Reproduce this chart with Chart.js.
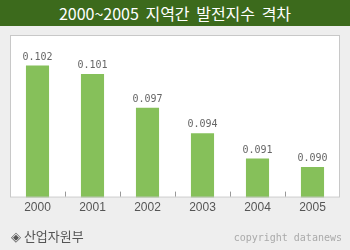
<!DOCTYPE html>
<html>
<head>
<meta charset="utf-8">
<script src="https://cdn.jsdelivr.net/npm/chart.js@4/dist/chart.umd.min.js"></script>
<style>
  html, body { margin: 0; padding: 0; background: #eeeeee; width: 350px; height: 250px; overflow: hidden; }
  #wrap { position: absolute; left: 0; top: 0; width: 350px; height: 250px; }
  #title { position: absolute; left: 0; top: 0; width: 350px; height: 26px; background: #3c6a1c; color: #ffffff;
           font-family: "Noto Sans CJK KR", sans-serif; font-size: 16px; line-height: 26px; text-align: center; word-spacing: 3px; z-index: 2; }
  #source { position: absolute; left: 11px; top: 227px; color: #555555; font-family: "Noto Sans CJK KR", sans-serif; font-size: 13px; line-height: 18px; z-index: 2; }
  #copy { position: absolute; right: 8px; top: 231px; color: #aaaaaa; font-family: "DejaVu Sans Mono", monospace; font-size: 10px; line-height: 14px; z-index: 2; }
  canvas { position: absolute; left: 0; top: 0; }
</style>
</head>
<body>
<div id="wrap">
  <div id="title">2000~2005 지역간 발전지수 격차</div>
  <canvas id="c" width="350" height="250"></canvas>
  <div id="source">◈ 산업자원부</div>
  <div id="copy">copyright datanews</div>
</div>
<script>
const categories = ["2000", "2001", "2002", "2003", "2004", "2005"];
const values = [0.102, 0.101, 0.097, 0.094, 0.091, 0.090];
const valueLabels = ["0.102", "0.101", "0.097", "0.094", "0.091", "0.090"];

const boxPlugin = {
  id: 'box',
  beforeDraw(chart) {
    const { ctx, chartArea: a } = chart;
    ctx.save();
    ctx.fillStyle = '#ffffff';
    ctx.fillRect(a.left, a.top, a.right - a.left, a.bottom - a.top);
    ctx.restore();
  },
  afterDatasetsDraw(chart) {
    const { ctx, chartArea: a } = chart;
    const xs = chart.scales.x;
    ctx.save();
    ctx.strokeStyle = '#c8c8c8';
    ctx.lineWidth = 1;
    ctx.strokeRect(a.left + 0.5, a.top + 0.5, a.right - a.left - 1, a.bottom - a.top - 1);
    ctx.strokeStyle = '#999999';
    for (let i = 1; i < categories.length; i++) {
      const x = Math.round((xs.getPixelForTick(i - 1) + xs.getPixelForTick(i)) / 2) + 0.5;
      ctx.beginPath();
      ctx.moveTo(x, a.bottom - 1);
      ctx.lineTo(x, a.bottom - 6);
      ctx.stroke();
    }
    const meta = chart.getDatasetMeta(0);
    ctx.fillStyle = '#666666';
    ctx.font = '10px "DejaVu Sans Mono", monospace';
    ctx.textAlign = 'center';
    ctx.textBaseline = 'alphabetic';
    meta.data.forEach((bar, i) => {
      ctx.fillText(valueLabels[i], bar.x, bar.y - 6);
    });
    ctx.restore();
  }
};

new Chart(document.getElementById('c'), {
  type: 'bar',
  data: {
    labels: categories,
    datasets: [{
      data: values,
      backgroundColor: '#86c05a',
      borderWidth: 0,
      categoryPercentage: 1,
      barPercentage: 0.42
    }]
  },
  options: {
    responsive: false,
    animation: false,
    layout: { padding: { left: 10, right: 10, top: 35, bottom: 32 } },
    plugins: { legend: { display: false }, tooltip: { enabled: false }, title: { display: false } },
    scales: {
      x: {
        grid: { display: false, drawTicks: false },
        border: { display: false },
        ticks: { color: '#555555', font: { family: '"Liberation Sans", Arial, sans-serif', size: 12 }, padding: 3 }
      },
      y: {
        display: false,
        min: 0.08639,
        max: 0.10561
      }
    }
  },
  plugins: [boxPlugin]
});
</script>
</body>
</html>
